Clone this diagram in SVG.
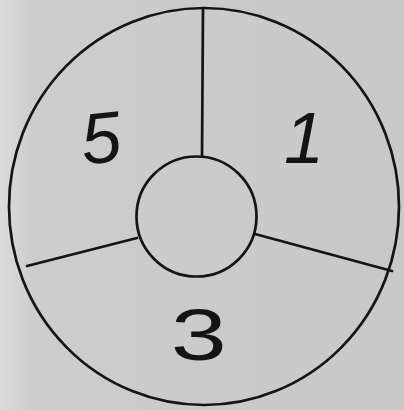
<svg xmlns="http://www.w3.org/2000/svg" width="404" height="410" viewBox="0 0 404 410">
<style>
.ln{fill:none;stroke:#141414;stroke-width:2.7;stroke-linecap:round}
.num{font-family:"Liberation Sans",Arial,sans-serif;font-style:italic;fill:#141414;font-size:72px}
</style>
<defs>
<linearGradient id="bg" x1="0" y1="0" x2="1" y2="0">
<stop offset="0" stop-color="#dcdcdc"/>
<stop offset="0.08" stop-color="#cdcdcd"/>
<stop offset="1" stop-color="#c8c8c8"/>
</linearGradient>
</defs>
<rect width="404" height="410" fill="url(#bg)"/>
<g id="outer-ring">
<ellipse class="ln" cx="204" cy="206.5" rx="195" ry="198.5"/>
</g>
<g id="hub">
<circle class="ln" cx="196.5" cy="216.5" r="60"/>
</g>
<g id="connectors">
<line class="ln" x1="203" y1="8" x2="202" y2="156"/>
<line class="ln" x1="27" y1="266" x2="137" y2="238"/>
<line class="ln" x1="255" y1="234" x2="392" y2="271"/>
</g>
<g id="sector-5">
<text class="num" x="81" y="163" transform="rotate(-6 100 140)">5</text>
</g>
<g id="sector-1">
<text class="num" x="284" y="163">1</text>
</g>
<g id="sector-3">
<text class="num" x="122" y="360" transform="scale(1.4 1)" style="font-style:normal">3</text>
</g>
</svg>
